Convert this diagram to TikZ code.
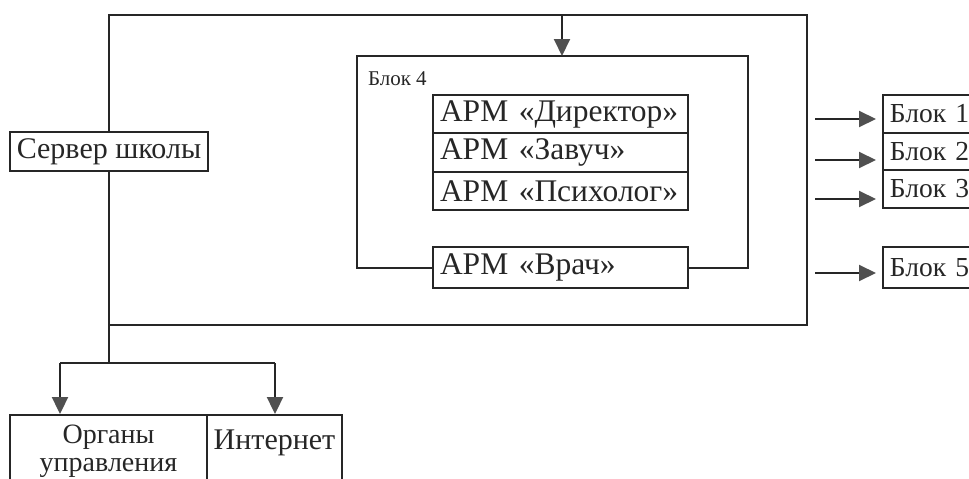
\documentclass[tikz,border=0pt]{standalone}
\usepackage{fontspec}
\setmainfont{Liberation Serif}
\usetikzlibrary{arrows.meta}
\definecolor{ink}{HTML}{262626}
\definecolor{tipgray}{HTML}{505050}
\begin{document}
\begin{tikzpicture}[x=1pt,y=-1pt,
  color=ink, line width=2pt,
  box/.style={draw=ink, line width=1.9pt, inner sep=0pt, font=\fontsize{30}{31}\selectfont, text=ink},
  armbox/.style={box, font=\fontsize{31.5}{32}\selectfont, text width=241, inner xsep=7, align=left, minimum height=38.3},
  blkbox/.style={box, font=\fontsize{27.5}{29}\selectfont, anchor=west, text width=104, inner xsep=7, align=left, minimum height=38},
  arr/.style={-{Triangle[width=16pt,length=17pt,color=tipgray]}},
  lbl/.style={anchor=base west, inner sep=0pt, font=\fontsize{21}{24}\selectfont, text=ink}
]
\useasboundingbox (0,0) rectangle (969,479);
\clip (0,0) rectangle (969,479);

% server
\node[box, minimum width=198, minimum height=39] (server) at (109,151.5) {Сервер школы};

% block 4 contents
\node[armbox] (dir) at (560.5,114.2) {АРМ «Директор»};
\node[armbox] (zav) at (560.5,152.5) {АРМ «Завуч»};
\node[armbox] (psy) at (560.5,190.8) {АРМ «Психолог»};
\node[armbox, minimum height=41] (vrach) at (560.5,267.5) {АРМ «Врач»};
\node[lbl] (b4l) at (367,85) {Блок 4};

% right blocks
\node[blkbox] (b1) at (882,114) {Блок 1};
\node[blkbox] (b2) at (882,151.5) {Блок 2};
\node[blkbox] (b3) at (882,189) {Блок 3};
\node[blkbox, minimum height=41] (b5) at (882,267.5) {Блок 5};

% bottom boxes
\node[box, font=\fontsize{28}{28}\selectfont, minimum width=197, minimum height=72, align=center] (org) at (108.5,451) {Органы\\управления};
\node[box, minimum width=135, minimum height=72] (inet) at (274.5,451) {\raisebox{22pt}{Интернет}};

% coordinates
\coordinate (otr) at (807,15);
\coordinate (obr) at (807,325);
\coordinate (split) at (109,363);
\coordinate (sl) at (60,363);
\coordinate (sr) at (275,363);
\coordinate (b4nw) at (357,56);
\coordinate (b4ne) at (748,56);
\coordinate (tin) at (562,15);
\coordinate (s1) at (815,119);
\coordinate (s2) at (815,160);
\coordinate (s3) at (815,199);
\coordinate (s5) at (815,273);

% outer frame
\draw (server.north) |- (otr) -- (obr) -| (server.south);
\draw (server.south) -- (split);
\draw (sl) -- (sr);
\draw[arr] (sl) -- (sl |- org.north);
\draw[arr] (sr) -- (sr |- inet.north);

% block 4 frame
\draw (vrach.west) -| (b4nw) -- (b4ne) |- (vrach.east);
\draw[arr] (tin) -- (tin |- b4nw);

% arrows to blocks
\draw[arr, shorten >=6pt] (s1) -- (s1 -| b1.west);
\draw[arr, shorten >=6pt] (s2) -- (s2 -| b2.west);
\draw[arr, shorten >=6pt] (s3) -- (s3 -| b3.west);
\draw[arr, shorten >=6pt] (s5) -- (s5 -| b5.west);
\end{tikzpicture}
\end{document}
